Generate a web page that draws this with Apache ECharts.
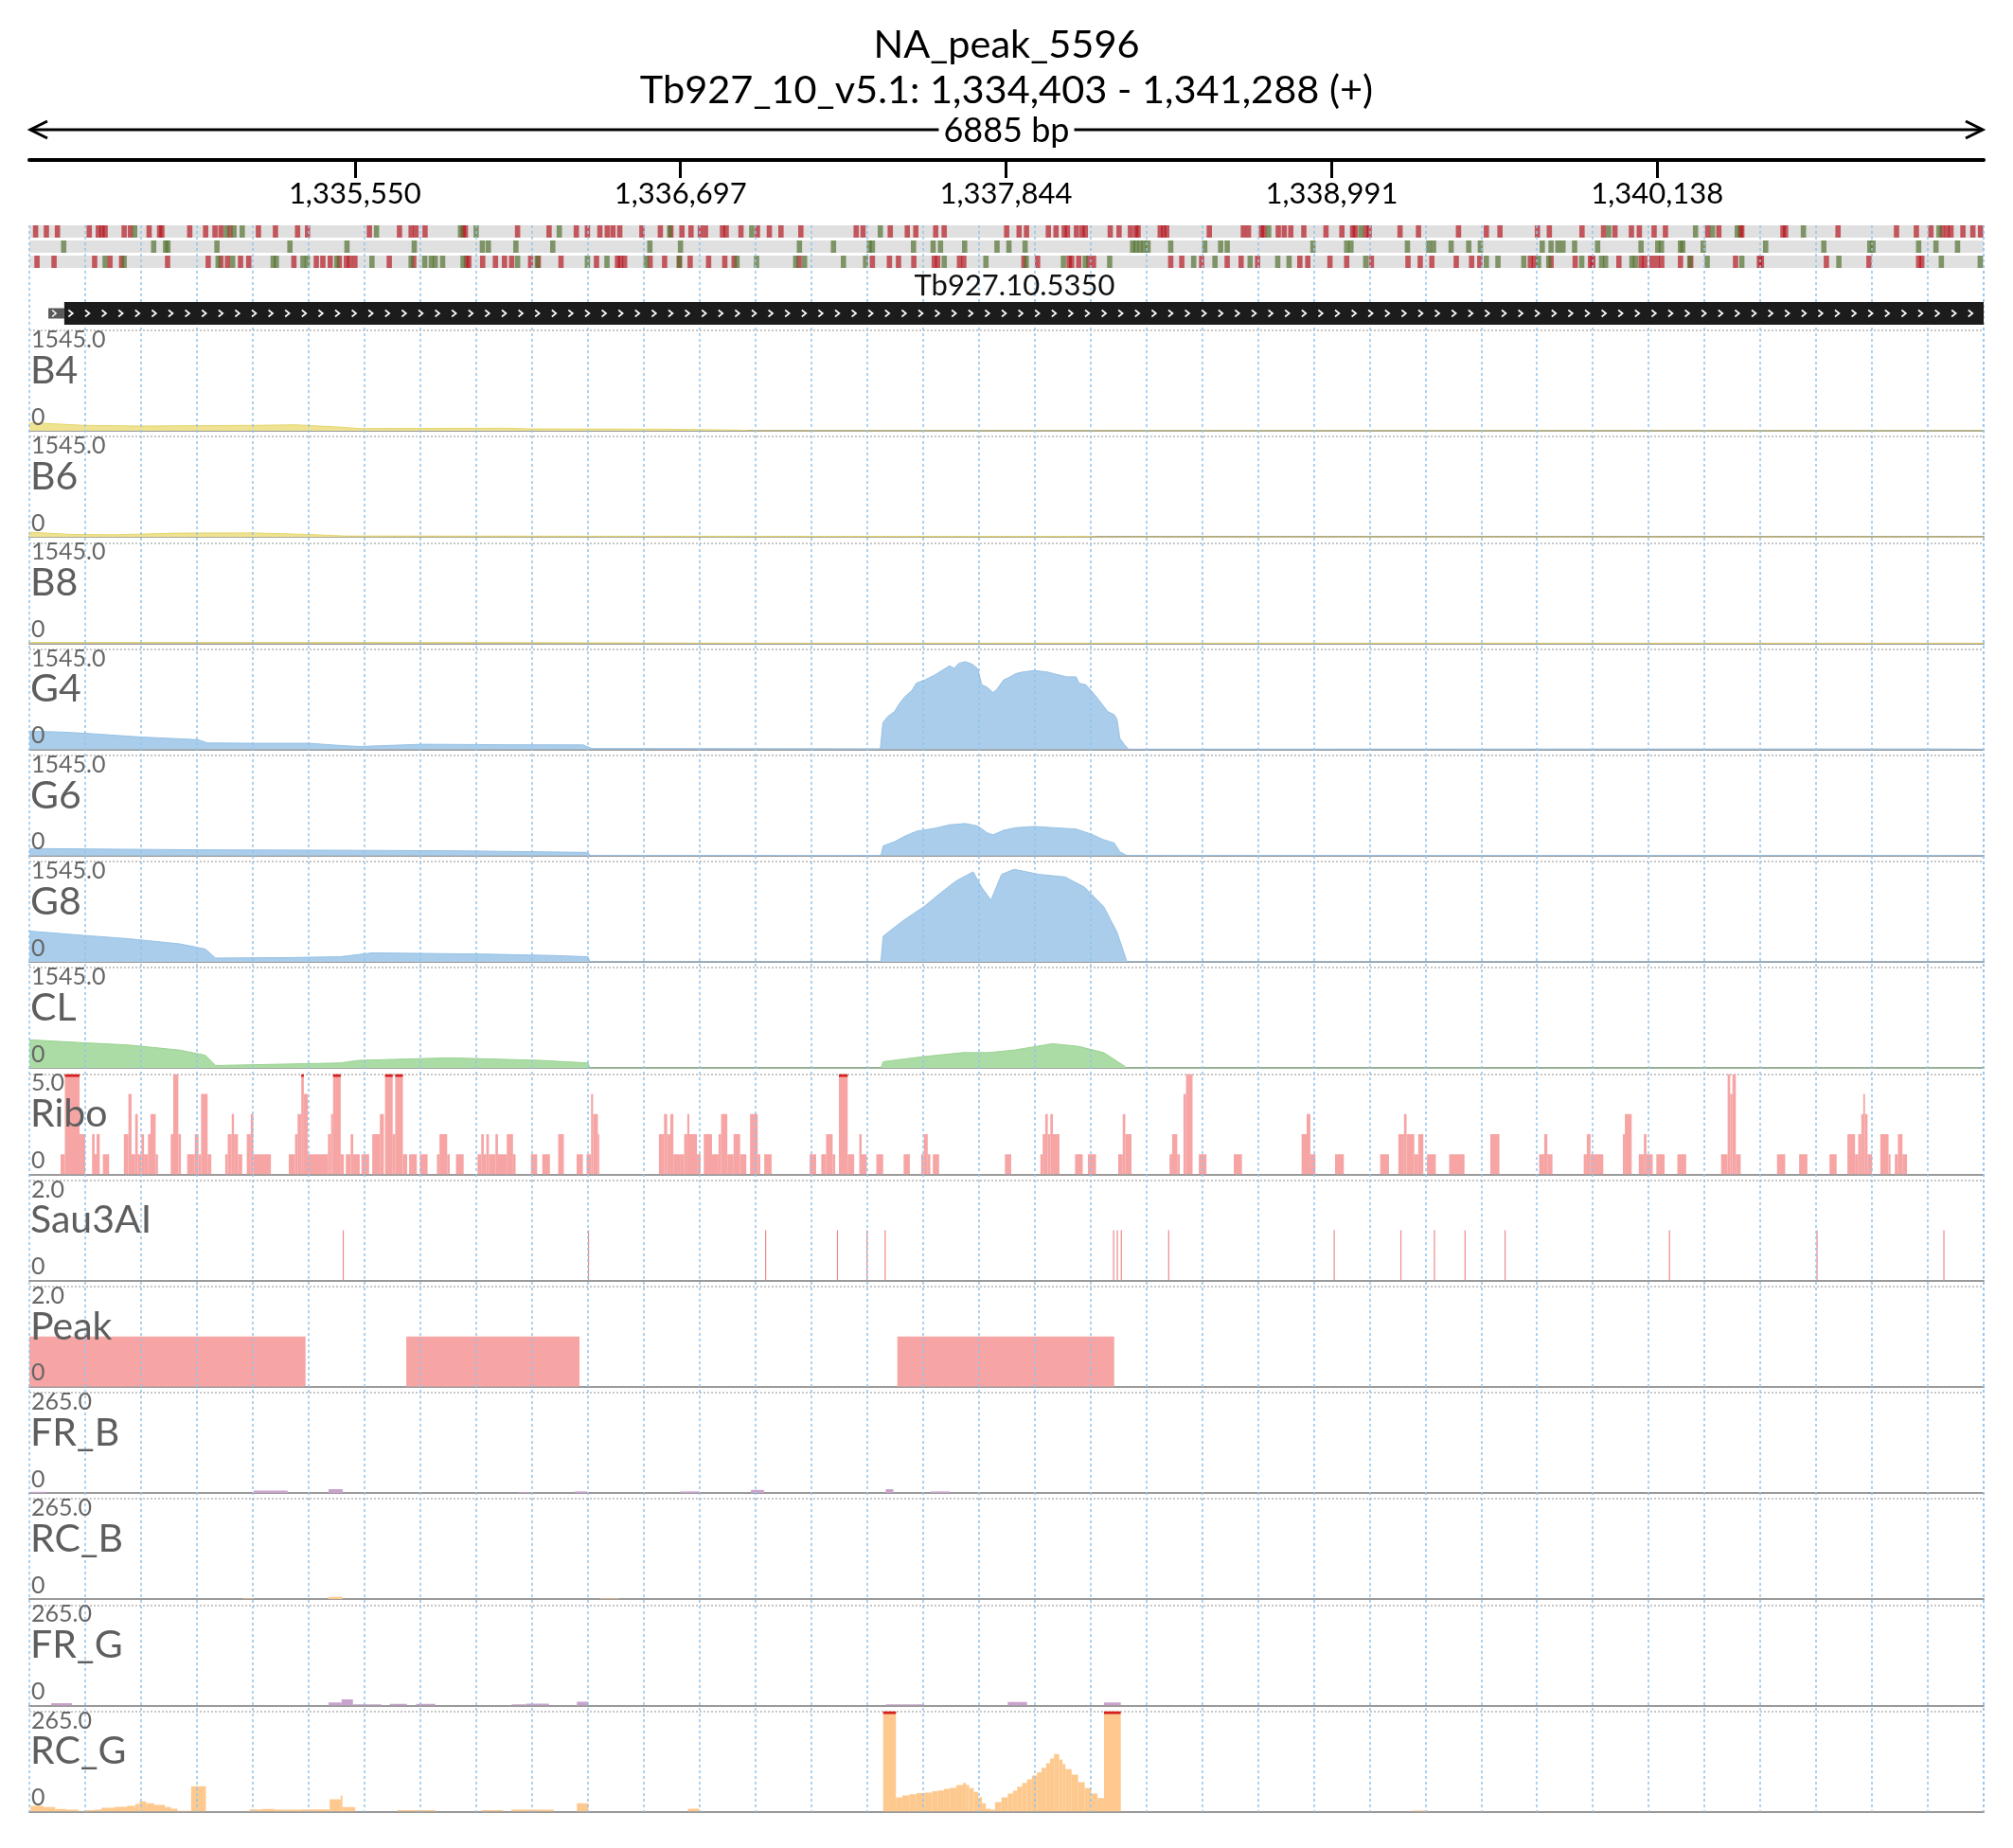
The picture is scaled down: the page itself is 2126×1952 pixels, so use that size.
<!DOCTYPE html>
<html><head><meta charset="utf-8">
<script src="https://cdn.jsdelivr.net/npm/echarts@6/dist/echarts.min.js"></script>
<style>html,body{margin:0;padding:0;background:#fff}#c{width:2126px;height:1952px}</style>
</head><body><div id="c"></div><script>
// ---------------- DATA ----------------
const REGION_START = 1334403;
const REGION_END = 1341288;
const SPAN = REGION_END - REGION_START; // 6885
const titleText = 'NA_peak_5596';
const subtitleText = 'Tb927_10_v5.1: 1,334,403 - 1,341,288 (+)';
const rulerTicks = [1335550, 1336697, 1337844, 1338991, 1340138];
const gridDivisions = 35;

const geneName = 'Tb927.10.5350';
const geneUtr = [67, 123];
const geneCds = [123, 6885];

// codon marks (bp offset from region start), three reading frames
const frame1Stops = [22,60,99,211,243,256,267,334,356,422,459,467,565,621,654,675,707,807,867,945,980,1198,1304,1345,1362,1394,1528,1536,1720,1831,1927,1966,2010,2036,2056,2080,2158,2223,2260,2299,2331,2364,2382,2442,2455,2507,2565,2607,2648,2718,2913,2937,3033,3093,3123,3193,3223,3443,3487,3513,3590,3617,3646,3657,3689,3709,3720,3808,3839,3879,3898,3906,3984,3996,4007,4157,4277,4295,4341,4349,4400,4421,4444,4490,4568,4624,4662,4671,4708,4720,4829,4894,5035,5133,5181,5313,5355,5470,5546,5586,5644,5672,5724,5764,5913,5952,6028,6033,6178,6187,6372,6578,6648,6699,6739,6756,6770,6812,6847,6874];
const frame1Starts = [371,694,721,750,1223,1519,1574,1867,2256,2545,2998,4366,4691,5564,5870,5930,6017,6250,6728];
const frame2Stops = [];
const frame2Starts = [121,438,480,488,661,918,1119,1356,1596,1617,1714,1844,2186,2294,2713,2833,2959,2970,3115,3184,3210,3295,3409,3451,3508,3887,3899,3913,3927,3941,4021,4141,4197,4220,4522,4641,4656,4855,4930,4947,5009,5071,5112,5330,5361,5385,5403,5444,5525,5678,5737,5750,5817,5825,5897,6117,6322,6484,6495,6656,6717,6793];
const frame3Stops = [27,87,230,284,325,487,630,675,698,744,773,932,1011,1034,1060,1092,1117,1129,1147,1268,1354,1540,1548,1597,1642,1674,1699,1766,1793,1873,1998,2072,2083,2097,2187,2238,2290,2328,2393,2450,2483,2712,2970,3030,3062,3116,3188,3200,3277,3292,3504,3552,3663,3672,3697,3732,3749,4021,4060,4130,4220,4269,4327,4476,4504,4582,4641,4728,4857,4900,4941,5027,5081,5110,5288,5302,5361,5446,5500,5508,5600,5678,5691,5717,5735,5751,5817,5853,6011,6095,6102,6331,6481,6656,6667];
const frame3Starts = [267,334,665,716,859,870,964,979,1083,1207,1345,1393,1416,1430,1456,1528,1720,1789,1966,2035,2173,2290,2493,2562,2700,2731,2868,2946,3223,3370,3512,3643,3720,3806,4102,4177,4301,4398,4438,4708,5133,5174,5265,5317,5353,5469,5539,5553,5646,5658,5850,5911,6033,6375,6736,6873];

// coverage tracks: [bp offset, value]
const b4Coverage = [[0,121],[50,115],[193,83],[387,73],[790,83],[937,92],[1087,58],[1164,34],[1400,36],[1684,39],[1757,29],[2231,24],[2500,10],[2540,0],[6885,0]];
const b6Coverage = [[0,73],[150,40],[300,34],[522,60],[790,63],[984,39],[1117,15],[2000,12],[3742,8],[3760,0],[6885,0]];
const b8Coverage = [[0,12],[1700,10],[2000,6],[2500,0],[6885,0]];
const g4Coverage = [[0,280],[97,270],[193,250],[397,190],[594,150],[627,100],[790,95],[984,95],[1097,60],[1164,45],[1384,80],[1684,72],[1951,70],[1981,15],[2998,10],[3007,413],[3025,510],[3048,583],[3065,705],[3082,802],[3108,900],[3125,1020],[3155,1069],[3188,1142],[3215,1215],[3242,1288],[3258,1249],[3275,1327],[3298,1351],[3322,1312],[3342,1239],[3355,996],[3375,957],[3395,875],[3408,923],[3432,1069],[3455,1118],[3475,1166],[3498,1191],[3542,1215],[3588,1191],[3608,1166],[3655,1118],[3688,1118],[3698,1020],[3722,996],[3742,899],[3765,778],[3782,680],[3799,583],[3822,535],[3832,462],[3842,170],[3858,73],[3872,5],[6700,8],[6885,4]];
const g6Coverage = [[0,110],[600,90],[1000,85],[1500,75],[1968,50],[1975,5],[3000,4],[3008,150],[3048,215],[3082,295],[3125,375],[3188,420],[3242,475],[3298,495],[3342,455],[3375,350],[3395,320],[3432,390],[3475,430],[3542,450],[3608,430],[3688,410],[3742,330],[3782,250],[3822,195],[3842,60],[3867,0],[3900,5],[6700,3],[6885,0]];
const g8Coverage = [[0,475],[167,416],[349,356],[530,277],[620,198],[656,59],[900,65],[1095,79],[1208,139],[1615,119],[1841,99],[1968,79],[1975,0],[3000,0],[3008,396],[3080,640],[3152,851],[3210,1060],[3265,1247],[3325,1386],[3355,1148],[3388,950],[3425,1346],[3469,1425],[3520,1380],[3559,1346],[3649,1307],[3718,1148],[3785,851],[3832,455],[3867,0],[6885,0]];
const clCoverage = [[0,436],[167,396],[349,356],[530,277],[620,198],[656,40],[1095,79],[1160,119],[1480,158],[1800,119],[1968,79],[1975,0],[3000,0],[3008,99],[3152,178],[3289,238],[3379,238],[3469,277],[3604,376],[3695,336],[3785,238],[3855,40],[3867,0],[6885,0]];

// segment tracks: [start, end, value]
const riboSegments = [[110,125,1],[125,177,6],[177,197,2],[221,230,2],[230,237,1],[237,248,2],[259,281,1],[333,349,2],[349,360,4],[360,373,1],[373,382,3],[382,395,1],[395,404,2],[404,418,1],[418,427,2],[427,445,3],[445,453,1],[498,507,2],[507,525,5],[525,534,2],[556,583,1],[583,596,2],[596,605,1],[605,628,4],[628,641,1],[690,699,1],[699,713,2],[713,721,3],[721,735,2],[735,750,1],[766,780,2],[780,789,3],[789,851,1],[914,936,1],[936,945,2],[945,958,3],[958,967,6],[967,981,4],[981,1052,1],[1052,1063,2],[1063,1070,3],[1070,1097,6],[1097,1108,1],[1115,1132,1],[1132,1141,2],[1141,1164,1],[1170,1197,1],[1208,1235,2],[1235,1249,3],[1253,1280,6],[1280,1289,2],[1289,1316,6],[1316,1331,1],[1338,1365,1],[1376,1403,1],[1436,1445,1],[1445,1472,2],[1472,1481,1],[1503,1530,1],[1579,1592,1],[1592,1601,2],[1601,1610,1],[1610,1619,2],[1619,1642,1],[1642,1651,2],[1651,1682,1],[1682,1704,2],[1704,1713,1],[1767,1789,1],[1807,1834,1],[1863,1883,2],[1928,1950,1],[1963,1979,1],[1979,1986,4],[1986,2003,3],[2003,2008,2],[2218,2236,2],[2236,2247,3],[2247,2258,2],[2258,2269,3],[2269,2292,1],[2292,2307,1],[2307,2318,2],[2318,2325,3],[2325,2352,2],[2352,2365,1],[2376,2405,2],[2405,2428,1],[2428,2437,2],[2437,2459,3],[2459,2481,1],[2481,2504,2],[2504,2526,1],[2539,2566,3],[2566,2575,1],[2589,2615,1],[2749,2772,1],[2790,2807,1],[2807,2830,2],[2830,2839,1],[2852,2883,6],[2883,2906,1],[2924,2932,2],[2932,2950,1],[2984,3008,1],[3080,3102,1],[3142,3151,1],[3151,3165,2],[3165,3174,1],[3183,3205,1],[3437,3459,1],[3562,3570,1],[3570,3579,2],[3579,3588,3],[3588,3597,2],[3597,3606,3],[3606,3629,2],[3684,3711,1],[3729,3758,1],[3836,3852,1],[3852,3861,3],[3861,3883,2],[4017,4026,1],[4026,4044,2],[4044,4053,1],[4066,4075,4],[4075,4098,5],[4120,4147,1],[4243,4272,1],[4482,4500,2],[4500,4513,3],[4513,4531,1],[4600,4631,1],[4759,4790,1],[4823,4843,2],[4843,4852,3],[4852,4879,2],[4879,4893,1],[4893,4911,2],[4924,4955,1],[5002,5056,1],[5147,5179,2],[5319,5337,1],[5337,5348,2],[5348,5366,1],[5476,5487,1],[5487,5500,2],[5500,5545,1],[5614,5621,2],[5621,5645,3],[5670,5688,1],[5688,5697,2],[5697,5719,1],[5732,5761,1],[5806,5837,1],[5960,5983,1],[5983,5992,5],[5992,6000,4],[6000,6012,5],[6012,6029,1],[6157,6186,1],[6235,6264,1],[6342,6367,1],[6405,6432,2],[6432,6443,1],[6443,6454,2],[6454,6461,3],[6461,6467,4],[6467,6476,3],[6476,6492,1],[6521,6550,2],[6550,6557,1],[6572,6583,1],[6583,6599,2],[6599,6615,1]];
const sau3aiSites = [1104,1968,2592,2845,2949,3013,3818,3831,3845,4012,4595,4830,4948,5056,5197,5776,6296,6743];
const sau3aiValue = 1;
const peakSegments = [[0,973,1],[1328,1938,1],[3058,3822,1]];
const frBSegments = [[4,60,3],[790,910,6],[1054,1104,10],[1721,1773,2],[1922,1966,4],[2294,2362,4],[2542,2588,8],[3017,3044,10],[3175,3243,4]];
const rcBSegments = [[753,790,1.5],[1054,1104,6],[2011,2078,2]];
const frGSegments = [[77,150,6],[1054,1100,8],[1100,1140,16],[1140,1240,3],[1270,1330,4],[1363,1430,4],[1700,1750,3],[1750,1830,5],[1929,1969,10],[3017,3153,3],[3447,3515,9],[3786,3845,8]];
const rcGSegments = [[4,50,15],[50,91,12],[91,130,7],[130,172,5],[172,195,2],[195,230,4],[230,254,5],[254,300,10],[300,344,13],[344,373,15],[373,388,20],[388,411,27],[411,440,22],[440,478,18],[478,500,12],[500,522,8],[522,567,2],[570,622,67],[622,775,1],[775,820,6],[820,865,7],[865,960,5],[960,1058,6],[1058,1097,33],[1097,1103,43],[1103,1148,12],[1297,1430,4],[1594,1669,4],[1698,1847,5],[1929,1969,22],[2320,2360,8],[3008,3053,300],[3053,3075,38],[3075,3100,43],[3100,3125,46],[3125,3153,49],[3153,3180,50],[3180,3200,54],[3200,3222,56],[3222,3243,60],[3243,3266,63],[3266,3289,70],[3289,3300,76],[3300,3311,70],[3311,3327,62],[3327,3343,52],[3343,3356,38],[3356,3370,22],[3370,3388,8],[3388,3402,5],[3402,3425,25],[3425,3447,38],[3447,3465,48],[3465,3480,55],[3480,3498,66],[3498,3515,76],[3515,3532,85],[3532,3550,95],[3550,3566,104],[3566,3582,116],[3582,3596,128],[3596,3610,140],[3610,3628,152],[3628,3640,138],[3640,3650,125],[3650,3672,112],[3672,3695,98],[3695,3718,78],[3718,3741,62],[3741,3763,48],[3763,3786,36],[3786,3845,300],[4870,4930,3]];

const trackNames = ['B4','B6','B8','G4','G6','G8','CL','Ribo','Sau3AI','Peak','FR_B','RC_B','FR_G','RC_G'];
const trackMax = [1545,1545,1545,1545,1545,1545,1545,5,2,2,265,265,265,265];

// ---------------- LAYOUT / STYLE ----------------
const L = 31, RGT = 31, FONT = 'Lato';
const TRACK_TOP0 = 349, TRACK_PITCH = 112.2, TRACK_H = 106;
const style = {
  B: {fill:'#efe392', stroke:'#e3d56c'},
  G: {fill:'#a9cdea', stroke:'#98c2e5'},
  CL:{fill:'#acdca6', stroke:'#9ad293'},
  pink:'#f6a4a4', site:'#ee8a8a', FR:'#c9a3cc', RC:'#fdc98e', clip:'#d62020'
};
const trackDefs = [
  {kind:'area', data:b4Coverage, st:style.B},
  {kind:'area', data:b6Coverage, st:style.B},
  {kind:'area', data:b8Coverage, st:style.B},
  {kind:'area', data:g4Coverage, st:style.G},
  {kind:'area', data:g6Coverage, st:style.G},
  {kind:'area', data:g8Coverage, st:style.G},
  {kind:'area', data:clCoverage, st:style.CL},
  {kind:'seg', data:riboSegments, color:style.pink},
  {kind:'seg', data:sau3aiSites.map(p=>[p,p+2,sau3aiValue]), color:style.site},
  {kind:'seg', data:peakSegments, color:style.pink},
  {kind:'seg', data:frBSegments, color:style.FR},
  {kind:'seg', data:rcBSegments, color:style.RC},
  {kind:'seg', data:frGSegments, color:style.FR},
  {kind:'seg', data:rcGSegments, color:style.RC}
];

const grids = [], xAxes = [], yAxes = [], series = [], graphics = [];
function hiddenX(gi, extra){ return Object.assign({gridIndex:gi, type:'value', min:0, max:SPAN, show:false}, extra||{}); }
function hiddenY(gi, extra){ return Object.assign({gridIndex:gi, type:'value', min:0, max:1, show:false}, extra||{}); }

// 0: background vertical dotted lines
grids.push({left:L, right:RGT, top:238, height:1676});
xAxes.push({gridIndex:0, type:'value', min:0, max:SPAN, interval:SPAN/gridDivisions, z:10,
  axisLine:{show:false}, axisTick:{show:false}, axisLabel:{show:false},
  splitLine:{show:true, lineStyle:{color:'#92c3eb', width:1.5, type:[3,3]}}});
yAxes.push(hiddenY(0));

// 1: ruler
grids.push({left:L, right:RGT, top:150, height:19});
xAxes.push({gridIndex:1, type:'value', min:0, max:SPAN, position:'bottom',
  axisLine:{show:true, lineStyle:{color:'#000', width:4}},
  axisTick:{show:true, length:19, lineStyle:{color:'#000', width:3}, customValues: rulerTicks.map(v=>v-REGION_START)},
  axisLabel:{show:true, customValues: rulerTicks.map(v=>v-REGION_START), margin:20, fontSize:31, fontFamily:FONT, color:'#000',
    formatter: v => (v+REGION_START).toLocaleString('en-US')},
  splitLine:{show:false}});
yAxes.push(hiddenY(1));

// 2: codon frames
grids.push({left:L, right:RGT, top:238, height:48});
xAxes.push(hiddenX(2));
yAxes.push(hiddenY(2, {max:3, inverse:true}));
const codonData = [];
[[frame1Stops,frame1Starts],[frame2Stops,frame2Starts],[frame3Stops,frame3Starts]].forEach((fr,row)=>{
  fr[0].forEach(p=>codonData.push([p,row,0]));
  fr[1].forEach(p=>codonData.push([p,row,1]));
});
series.push({type:'custom', xAxisIndex:2, yAxisIndex:2, z:2, silent:true, animation:false,
  data:[[0,0],[0,1],[0,2]], encode:{x:0,y:1},
  renderItem:(p,api)=>{const a=api.coord([0,api.value(1)]), b=api.coord([SPAN,api.value(1)]);
    return {type:'rect', shape:{x:a[0], y:a[1], width:b[0]-a[0], height:13}, style:{fill:'#e0e0e0'}};}});
series.push({type:'custom', xAxisIndex:2, yAxisIndex:2, z:3, silent:true, animation:false,
  data:codonData, encode:{x:0,y:1},
  renderItem:(p,api)=>{const c=api.coord([api.value(0),api.value(1)]);
    return {type:'rect', shape:{x:c[0]-2.8, y:c[1], width:5.6, height:13},
      style:{fill: api.value(2)===0 ? 'rgba(180,20,30,0.68)' : 'rgba(85,115,50,0.7)'}};}});

// 3: gene
grids.push({left:L, right:RGT, top:306, height:50});
xAxes.push(hiddenX(3));
yAxes.push(hiddenY(3));
series.push({type:'custom', xAxisIndex:3, yAxisIndex:3, z:20, silent:true, animation:false,
  data:[[geneUtr[0], geneUtr[1], geneCds[0], geneCds[1], 0.5]], encode:{x:[0,3], y:4},
  renderItem:(p,api)=>{
    const u0=api.coord([api.value(0),0.5]), u1=api.coord([api.value(1),0.5]);
    const c0=api.coord([api.value(2),0.5]), c1=api.coord([api.value(3),0.5]);
    const yc=c0[1];
    const ch=[];
    ch.push({type:'rect', shape:{x:u0[0], y:yc-5.5, width:u1[0]-u0[0], height:11}, style:{fill:'#5a5a5a'}});
    ch.push({type:'polyline', shape:{points:[[u0[0]+4,yc-3.5],[u0[0]+8,yc],[u0[0]+4,yc+3.5]]}, style:{stroke:'#fff', lineWidth:1.5, fill:null}});
    ch.push({type:'rect', shape:{x:c0[0], y:yc-12, width:c1[0]-c0[0], height:24}, style:{fill:'#1c1c1c'}});
    for(let x=c0[0]+7; x<c1[0]-10; x+=17.6){
      ch.push({type:'polyline', shape:{points:[[x-2.5,yc-3.5],[x+2,yc],[x-2.5,yc+3.5]]}, style:{stroke:'#fff', lineWidth:1.6, fill:null}});
    }
    ch.push({type:'text', style:{text:geneName, x:(c0[0]+c1[0])/2-10, y:yc-29, align:'center', verticalAlign:'middle', fontSize:31, fontFamily:FONT, fill:'#111'}});
    return {type:'group', children:ch};
  }});

// tracks
trackDefs.forEach((t,i)=>{
  const gi = 4+i;
  const top = TRACK_TOP0 + i*TRACK_PITCH;
  grids.push({left:L, right:RGT, top:top, height:TRACK_H});
  xAxes.push({gridIndex:gi, type:'value', min:0, max:SPAN, show:true,
    axisLine:{show:true, onZero:false, lineStyle:{color:'#9a9a9a', width:2}}, axisTick:{show:false}, axisLabel:{show:false}, splitLine:{show:false}});
  yAxes.push({gridIndex:gi, type:'value', min:0, max:trackMax[i], interval:trackMax[i],
    axisLine:{show:false}, axisTick:{show:false}, axisLabel:{show:false},
    splitLine:{show:true, showMinLine:false, lineStyle:{color:'#b5b5b5', width:1.5, type:[2,2]}}});
  if(t.kind==='area'){
    series.push({type:'line', xAxisIndex:gi, yAxisIndex:gi, data:t.data, symbol:'none', showSymbol:false,
      animation:false, silent:true, clip:true, z:2,
      lineStyle:{width:1, color:t.st.stroke}, areaStyle:{color:t.st.fill, opacity:1}});
  } else {
    const mx = trackMax[i];
    series.push({type:'custom', xAxisIndex:gi, yAxisIndex:gi, data:t.data, encode:{x:[0,1], y:2},
      animation:false, silent:true, z:2, clip:true,
      renderItem:(p,api)=>{
        const s=api.value(0), e=api.value(1), v=api.value(2);
        const p0=api.coord([s,0]), p1=api.coord([e,Math.min(v,mx)]);
        const w=Math.max(p1[0]-p0[0],1.2);
        const ch=[{type:'rect', shape:{x:p0[0], y:p1[1], width:w, height:p0[1]-p1[1]}, style:{fill:t.color}}];
        if(v>mx) ch.push({type:'rect', shape:{x:p0[0], y:p1[1], width:w, height:3}, style:{fill:style.clip}});
        return {type:'group', children:ch};
      }});
  }
  // labels
  const maxLabel = trackMax[i].toFixed(1);
  graphics.push({type:'text', z:100, left:33, top:top-2.5, style:{text:maxLabel, fontSize:25, fontFamily:FONT, fill:'#666'}});
  graphics.push({type:'text', z:100, left:32, top:top+22, style:{text:trackNames[i], fontSize:41, fontFamily:FONT, fill:'#5e5e5e'}});
  graphics.push({type:'text', z:100, left:33, top:top+79, style:{text:'0', fontSize:25, fontFamily:FONT, fill:'#666'}});
});

// title + span arrow
const midX = L + (2126-L-RGT)/2;
graphics.push({type:'text', z:100, x:midX, y:48, style:{text:titleText, fontSize:41.5, fontFamily:FONT, fill:'#000', align:'center', verticalAlign:'middle'}});
graphics.push({type:'text', z:100, x:midX, y:96, style:{text:subtitleText, fontSize:41.5, fontFamily:FONT, fill:'#000', align:'center', verticalAlign:'middle'}});
graphics.push({type:'line', z:90, shape:{x1:L+1, y1:137, x2:2126-RGT-1, y2:137}, style:{stroke:'#000', lineWidth:3}});
graphics.push({type:'polyline', z:90, shape:{points:[[L+19,128],[L+1,137],[L+19,146]]}, style:{stroke:'#000', lineWidth:3, fill:null}});
graphics.push({type:'polyline', z:90, shape:{points:[[2126-RGT-19,128],[2126-RGT-1,137],[2126-RGT-19,146]]}, style:{stroke:'#000', lineWidth:3, fill:null}});
graphics.push({type:'text', z:100, x:midX, y:138, style:{text:SPAN+' bp', fontSize:36, fontFamily:FONT, fill:'#000', align:'center', verticalAlign:'middle', backgroundColor:'#fff', padding:[0,5,0,5]}});

const chart = echarts.init(document.getElementById('c'), null, {renderer:'canvas'});
chart.setOption({
  animation:false,
  backgroundColor:'#fff',
  grid:grids, xAxis:xAxes, yAxis:yAxes, series:series, graphic:graphics
});
</script></body></html>
